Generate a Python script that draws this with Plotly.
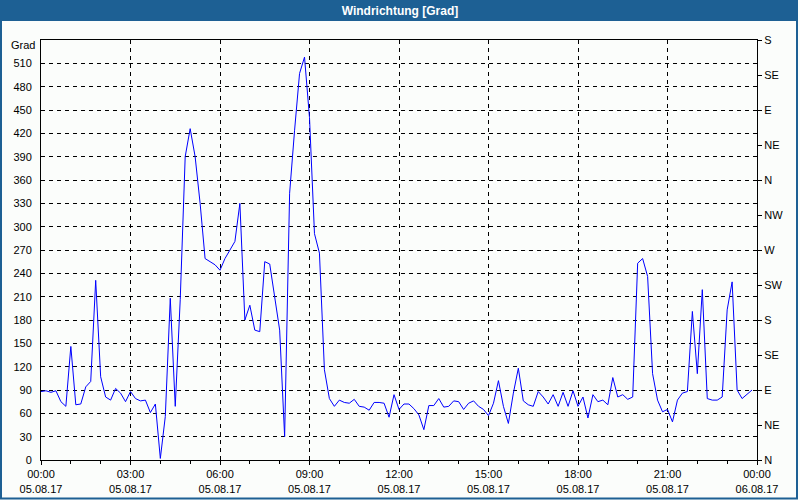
import plotly.graph_objects as go
import pandas as pd

# Wind direction values (degrees), 10-minute steps from 05.08.17 00:00 to 23:50
direction = [
    88, 89, 87, 89, 75, 69, 146, 71, 72, 94, 101, 231,          # 00:00-01:50
    107, 81, 77, 92, 86, 75, 88, 79, 76, 77, 61, 72,            # 02:00-03:50
    2, 56, 208, 69, 206, 390, 426, 390, 330, 259, 255, 251,     # 04:00-05:50
    244, 259, 270, 281, 330, 180, 199, 167, 165, 255, 252, 210, # 06:00-07:50
    167, 30, 343, 424, 497, 518, 440, 291, 266, 116, 79, 69,    # 08:00-09:50
    77, 74, 73, 78, 69, 68, 64, 74, 74, 73, 55, 84,             # 10:00-11:50
    65, 72, 72, 66, 58, 39, 70, 70, 79, 68, 69, 76,             # 12:00-13:50
    75, 65, 73, 76, 69, 65, 57, 73, 102, 69, 47, 86,            # 14:00-15:50
    118, 76, 71, 69, 88, 81, 72, 84, 69, 87, 69, 89,            # 16:00-17:50
    69, 81, 54, 84, 75, 77, 71, 106, 81, 84, 78, 81,            # 18:00-19:50
    253, 259, 236, 111, 77, 62, 65, 49, 77, 86, 88, 191,        # 20:00-21:50
    111, 219, 79, 77, 77, 81, 193, 229, 90, 79, 84, 90,         # 22:00-23:50
]
times = pd.date_range("2017-08-05 00:00", periods=len(direction), freq="10min")

x_tickvals = pd.date_range("2017-08-05 00:00", "2017-08-06 00:00", freq="3h")
x_ticktext = [f"{t:%H:%M}<br>{t:%d.%m.%y}" for t in x_tickvals]

y_tickvals = list(range(0, 511, 30))
y2_tickvals = list(range(0, 541, 45))
y2_ticktext = ["N", "NE", "E", "SE", "S", "SW", "W", "NW", "N", "NE", "E", "SE", "S"]

BLUE_BAR = "#1D6094"
BG = "#FBFDFB"
FONT = "Liberation Sans"

# pixel -> paper helpers (plot area: x 41..757, y 40..460)
L, R, T, B = 41, 43, 40, 40
W, H = 800, 500
PW, PH = W - L - R, H - T - B
px = lambda p: (p - L) / PW
py = lambda p: (H - B - p) / PH

fig = go.Figure()
fig.add_trace(go.Scatter(x=times, y=direction, mode="lines",
                         line=dict(color="#0000FF", width=1), yaxis="y",
                         hoverinfo="x+y", showlegend=False))
fig.add_trace(go.Scatter(x=times, y=direction, mode="lines",
                         line=dict(color="rgba(0,0,0,0)", width=1), yaxis="y2",
                         hoverinfo="skip", showlegend=False))

grid = dict(showgrid=True, gridcolor="black", gridwidth=1, griddash="4px,4px")

fig.update_layout(
    width=W, height=H, autosize=False,
    margin=dict(l=L, r=R, t=T, b=B, pad=0),
    paper_bgcolor=BG, plot_bgcolor=BG,
    font=dict(family=FONT, size=11, color="black"),
    title=dict(text="<b>Windrichtung [Grad]</b>", x=0.5, xanchor="center",
               y=1 - 10.5 / H, yanchor="middle",
               font=dict(family=FONT, size=12, color="white")),
    xaxis=dict(
        type="date", range=[x_tickvals[0], x_tickvals[-1]],
        tickmode="array", tickvals=x_tickvals, ticktext=x_ticktext,
        ticks="outside", ticklen=4, tickcolor="black",
        minor=dict(dtick=3600000, ticks="outside", ticklen=3, tickcolor="black", showgrid=False),
        showline=True, linecolor="black", linewidth=1, mirror=True,
        zeroline=False, automargin=False, **grid,
    ),
    yaxis=dict(
        range=[0, 540], tickmode="array", tickvals=y_tickvals,
        ticks="", ticklabelstandoff=6,
        showline=True, linecolor="black", linewidth=1,
        zeroline=False, automargin=False, **grid,
    ),
    yaxis2=dict(
        range=[0, 540], overlaying="y", side="right",
        tickmode="array", tickvals=y2_tickvals, ticktext=y2_ticktext,
        ticks="outside", ticklen=4, tickcolor="black",
        showline=True, linecolor="black", linewidth=1,
        showgrid=False, zeroline=False, automargin=False,
    ),
    shapes=[
        dict(type="rect", xref="paper", yref="paper", layer="below",
             x0=px(0), x1=px(798), y0=py(21), y1=py(0),
             fillcolor=BLUE_BAR, line=dict(width=0)),
        dict(type="rect", xref="paper", yref="paper",
             x0=px(1), x1=px(797), y0=py(498.5), y1=py(1),
             fillcolor="rgba(0,0,0,0)", line=dict(color=BLUE_BAR, width=2)),
    ],
    annotations=[
        dict(text="Grad", xref="paper", yref="paper", x=px(36.5), y=py(45.5),
             xanchor="right", yanchor="middle", showarrow=False,
             font=dict(family=FONT, size=11, color="black")),
    ],
)

fig.write_html("out.html", config={"displayModeBar": False},
               post_script="document.body.style.margin='0';document.body.style.overflow='hidden';")
